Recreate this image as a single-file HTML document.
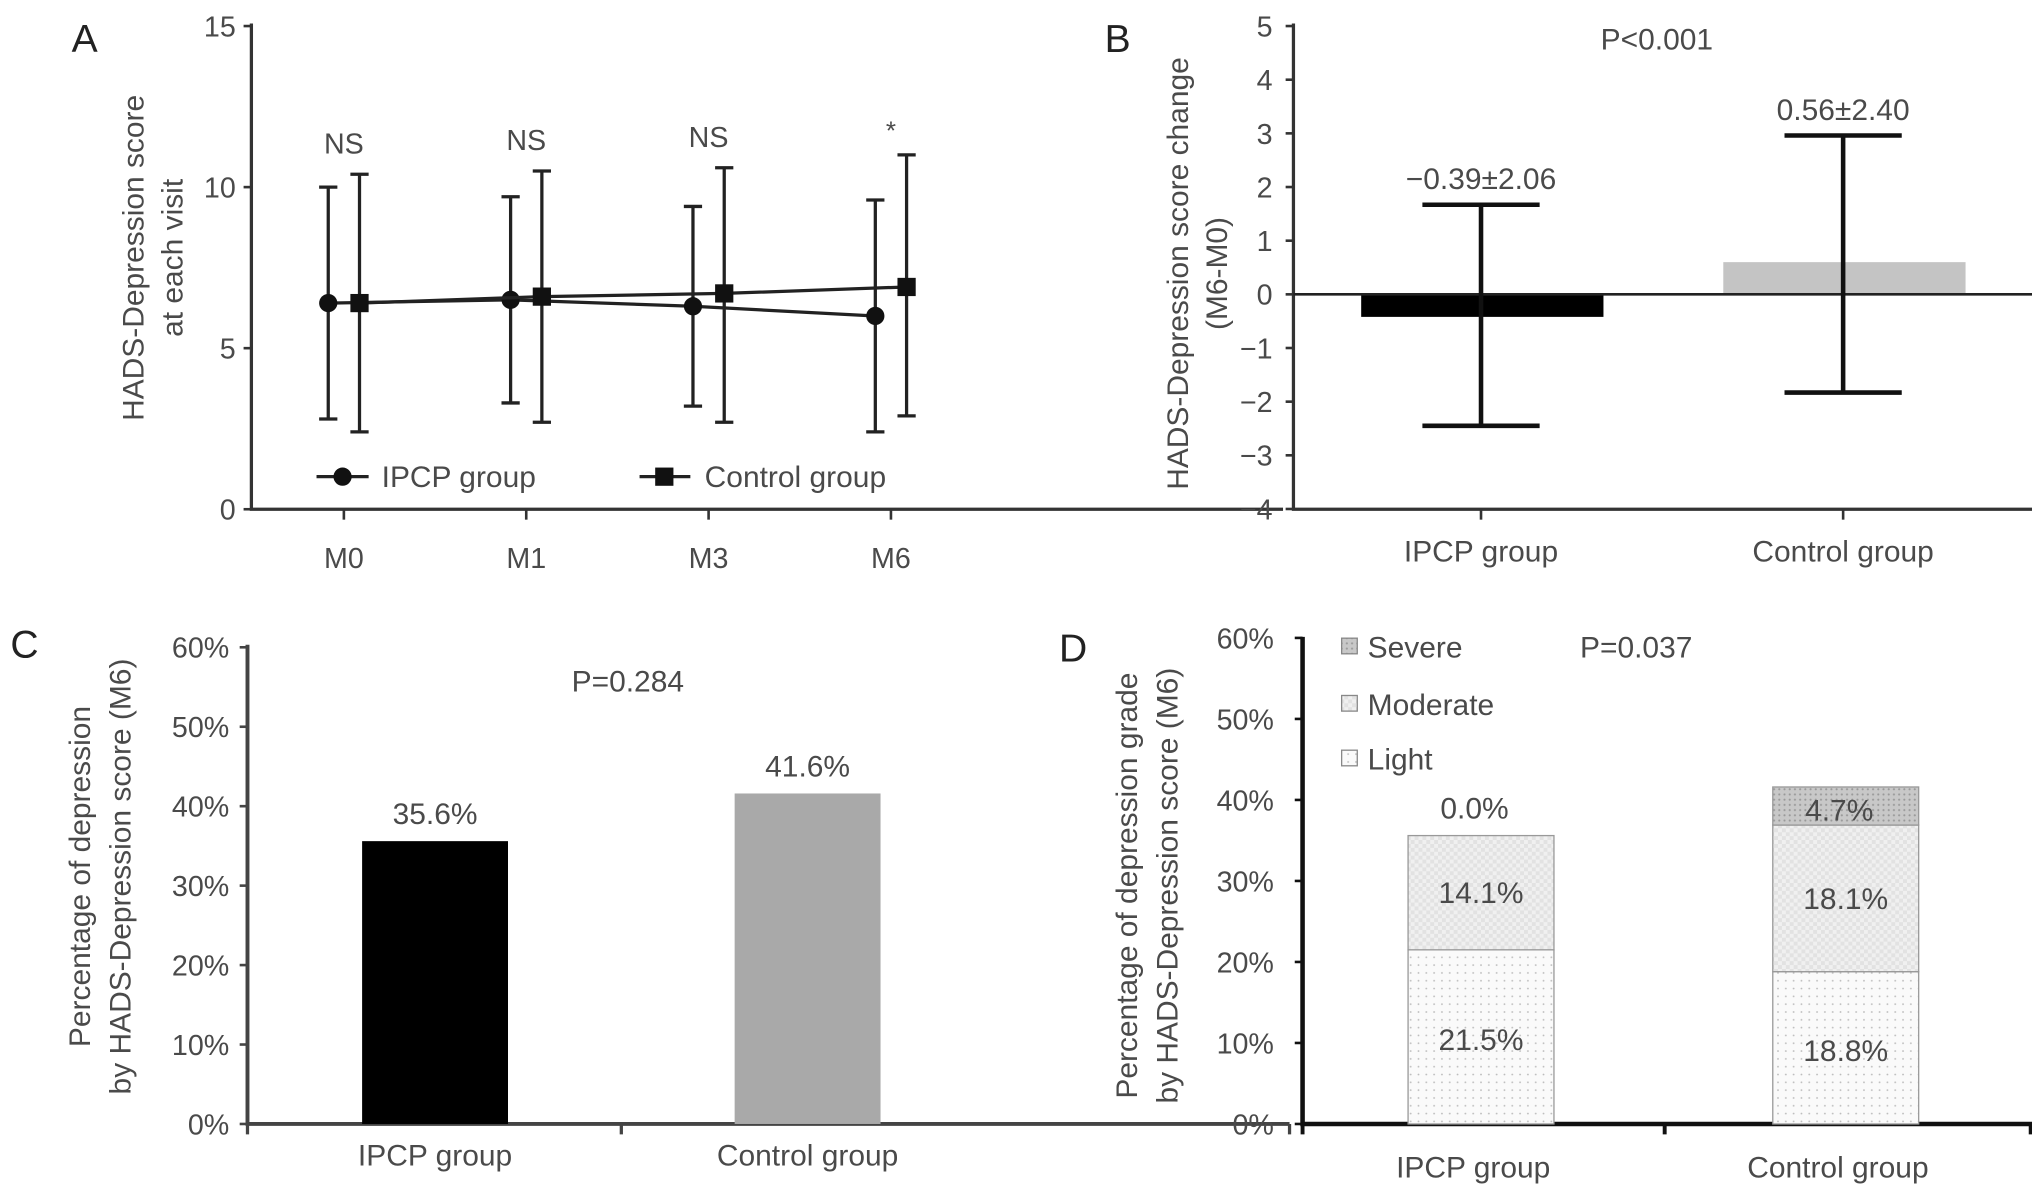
<!DOCTYPE html>
<html><head><meta charset="utf-8"><style>
html,body{margin:0;padding:0;background:#fff}
svg{display:block}
text{font-family:"Liberation Sans",sans-serif;fill:#4a4a4a}
</style></head><body>
<svg id="fig" width="2032" height="1193" viewBox="0 0 1560 916" preserveAspectRatio="none" xmlns="http://www.w3.org/2000/svg">
<defs>
<pattern id="pLight" width="6" height="6" patternUnits="userSpaceOnUse"><rect width="6" height="6" fill="#fafafa"/><circle cx="3" cy="3" r="0.7" fill="#bbb"/></pattern>
<pattern id="pMod" width="6" height="6" patternUnits="userSpaceOnUse"><rect width="6" height="6" fill="#f0f0f0"/><rect width="3" height="3" fill="#e2e2e2"/><rect x="3" y="3" width="3" height="3" fill="#e2e2e2"/></pattern>
<pattern id="pSev" width="4" height="4" patternUnits="userSpaceOnUse"><rect width="4" height="4" fill="#c8c8c8"/><circle cx="2" cy="2" r="0.8" fill="#999"/></pattern>
</defs>
<g id="gA"></g>
<g id="gB"></g>
<g id="gC"></g>
<g id="gD"></g>
</svg>
<script>
// Panel A data
const visits = ["M0","M1","M3","M6"];
const ipcpMean = [6.4, 6.5, 6.3, 6.0];
const ipcpUpper = [10.0, 9.7, 9.4, 9.6];
const ipcpLower = [2.8, 3.3, 3.2, 2.4];
const ctrlMean = [6.4, 6.6, 6.7, 6.9];
const ctrlUpper = [10.4, 10.5, 10.6, 11.0];
const ctrlLower = [2.4, 2.7, 2.7, 2.9];
const sigLabels = ["NS","NS","NS","*"];
const aTicks = [0, 5, 10, 15];
// Panel B data
const groups = ["IPCP group","Control group"];
const changeMean = [-0.42, 0.6];
const changeUpper = [1.67, 2.96];
const changeLower = [-2.45, -1.83];
const changeLabels = ["\u22120.39\u00b12.06","0.56\u00b12.40"];
const bTicks = [5,4,3,2,1,0,-1,-2,-3,-4];
const bTickLabels = ["5","4","3","2","1","0","\u22121","\u22122","\u22123","\u22124"];
// Panel C data
const depPct = [35.6, 41.6];
const depLabels = ["35.6%","41.6%"];
const pctTicks = [0,10,20,30,40,50,60];
// Panel D data
const lightPct = [21.5, 18.8];
const modPct = [14.1, 18.1];
const sevPct = [0.0, 4.7];
const lightLbl = ["21.5%","18.8%"];
const modLbl = ["14.1%","18.1%"];
const sevLbl = ["0.0%","4.7%"];

const NS="http://www.w3.org/2000/svg";
function mk(parent, tag, attrs, txt){const e=document.createElementNS(NS,tag);for(const k in attrs)e.setAttribute(k,attrs[k]);if(txt!==undefined)e.textContent=txt;parent.appendChild(e);return e;}

// ---------- Panel A ----------
(function(){
const g=document.getElementById('gA');
const y=v=>391-(v/15)*371;
const xc=i=>264+i*140;
let t=mk(g,'text',{x:55,y:40,'font-size':30,style:'fill:#222'},'A');

let ax=mk(g,'path',{d:'M193 18 V391 H985',stroke:'#333','stroke-width':2.5,fill:'none'});

aTicks.forEach(v=>{
 let l=mk(g,'line',{x1:187,x2:193,y1:y(v),y2:y(v),stroke:'#333','stroke-width':2});
 
 let tx=mk(g,'text',{x:181,y:y(v)+8,'font-size':22,'text-anchor':'end'},String(v));
 
});
visits.forEach((m,i)=>{
 let l=mk(g,'line',{x1:xc(i),x2:xc(i),y1:391,y2:399,stroke:'#333','stroke-width':2});
 
 let tx=mk(g,'text',{x:xc(i),y:436,'font-size':22,'text-anchor':'middle'},m);
 
});
function series(mean,up,lo,off,shape,name){
 let pts=mean.map((v,i)=>(xc(i)+off)+','+y(v)).join(' ');
 let pl=mk(g,'polyline',{points:pts,fill:'none',stroke:'#222','stroke-width':2.5});
 
 mean.forEach((v,i)=>{
  const x=xc(i)+off;
  let eb=mk(g,'path',{d:`M${x} ${y(up[i])} V${y(lo[i])} M${x-7} ${y(up[i])} H${x+7} M${x-7} ${y(lo[i])} H${x+7}`,stroke:'#222','stroke-width':2.5,fill:'none'});
  
  let p= shape==='c'? mk(g,'circle',{cx:x,cy:y(v),r:7,fill:'#111'}) : mk(g,'rect',{x:x-7,y:y(v)-7,width:14,height:14,fill:'#111'});
  
 });
}
series(ipcpMean,ipcpUpper,ipcpLower,-12,'c','ipcp');
series(ctrlMean,ctrlUpper,ctrlLower,12,'s','control');
sigLabels.forEach((s,i)=>{
 const top=Math.max(ipcpUpper[i],ctrlUpper[i]);
 let tx=mk(g,'text',{x:xc(i),y:s==='*'?y(top)-12:y(top)-16,'font-size':s==='*'?20:22,'text-anchor':'middle'},s);
 
});
let le=mk(g,'g',{});
mk(le,'line',{x1:243,x2:283,y1:366,y2:366,stroke:'#222','stroke-width':2.5});
mk(le,'circle',{cx:263,cy:366,r:7,fill:'#111'});
let l1=mk(le,'text',{x:293,y:374,'font-size':23},'IPCP group');
mk(le,'line',{x1:491,x2:530,y1:366,y2:366,stroke:'#222','stroke-width':2.5});
mk(le,'rect',{x:503,y:359,width:14,height:14,fill:'#111'});
let l2=mk(le,'text',{x:541,y:374,'font-size':23},'Control group');
let yt=mk(g,'text',{transform:'translate(110 198) rotate(-90)','font-size':23,'text-anchor':'middle'});

mk(yt,'tspan',{x:0,y:0},'HADS-Depression score');mk(yt,'tspan',{x:0,y:30},'at each visit');
})();

// ---------- Panel B ----------
(function(){
const g=document.getElementById('gB');
const y=v=>226-v*41.2;
const xc=i=>1137+i*278;
let t=mk(g,'text',{x:848,y:40,'font-size':30,style:'fill:#222'},'B');

let ax=mk(g,'path',{d:'M993 18 V391 H1560',stroke:'#333','stroke-width':2.5,fill:'none'});

bTicks.forEach((v,k)=>{
 let l=mk(g,'line',{x1:987,x2:993,y1:y(v),y2:y(v),stroke:'#333','stroke-width':2});
 
 let tx=mk(g,'text',{x:977,y:y(v)+8,'font-size':22,'text-anchor':'end'},bTickLabels[k]);
 
});
const colors=['#000','#c4c4c4'];
groups.forEach((gr,i)=>{
 const v=changeMean[i];
 let b=mk(g,'rect',{x:xc(i)-92,width:186,y:Math.min(y(0),y(v)),height:Math.abs(y(v)-y(0)),fill:colors[i]});
 
});
let z=mk(g,'line',{x1:993,x2:1560,y1:y(0),y2:y(0),stroke:'#222','stroke-width':2});

groups.forEach((gr,i)=>{
 const x=xc(i);
 let eb=mk(g,'path',{d:`M${x} ${y(changeUpper[i])} V${y(changeLower[i])} M${x-45} ${y(changeUpper[i])} H${x+45} M${x-45} ${y(changeLower[i])} H${x+45}`,stroke:'#111','stroke-width':3.5,fill:'none'});
 
 let vl=mk(g,'text',{x:x,y:y(changeUpper[i])-12,'font-size':23,'text-anchor':'middle'},changeLabels[i]);
 
 let l=mk(g,'line',{x1:x,x2:x,y1:391,y2:399,stroke:'#333','stroke-width':2});
 
 let tx=mk(g,'text',{x:x,y:431,'font-size':23,'text-anchor':'middle'},gr);
 
});
let p=mk(g,'text',{x:1272,y:38,'font-size':23,'text-anchor':'middle'},'P<0.001');

let yt=mk(g,'text',{transform:'translate(912 210) rotate(-90)','font-size':23,'text-anchor':'middle'});

mk(yt,'tspan',{x:0,y:0},'HADS-Depression score change');mk(yt,'tspan',{x:0,y:30},'(M6-M0)');
})();

// ---------- Panel C ----------
(function(){
const g=document.getElementById('gC');
const y=v=>863-v*6.1;
const xc=i=>334+i*286;
let t=mk(g,'text',{x:8,y:505,'font-size':30,style:'fill:#222'},'C');

let ax=mk(g,'path',{d:'M190 495 V863 H990',stroke:'#444','stroke-width':3,fill:'none'});

mk(g,'path',{d:'M190 863 V871 M477 863 V871 M990 863 V871',stroke:'#444','stroke-width':2.5});
pctTicks.forEach(v=>{
 let l=mk(g,'line',{x1:184,x2:190,y1:y(v),y2:y(v),stroke:'#444','stroke-width':2});
 
 let tx=mk(g,'text',{x:176,y:y(v)+8,'font-size':22,'text-anchor':'end'},v+'%');
 
});
const colors=['#000','#a9a9a9'];
groups.forEach((gr,i)=>{
 let b=mk(g,'rect',{x:xc(i)-56,width:112,y:y(depPct[i]),height:y(0)-y(depPct[i]),fill:colors[i]});
 
 let vl=mk(g,'text',{x:xc(i),y:y(depPct[i])-13,'font-size':23,'text-anchor':'middle'},depLabels[i]);
 
 let tx=mk(g,'text',{x:xc(i),y:895,'font-size':23,'text-anchor':'middle'},gr);
 
});
let p=mk(g,'text',{x:482,y:531,'font-size':23,'text-anchor':'middle'},'P=0.284');

let yt=mk(g,'text',{transform:'translate(69 673) rotate(-90)','font-size':23,'text-anchor':'middle'});

mk(yt,'tspan',{x:0,y:0},'Percentage of depression');mk(yt,'tspan',{x:0,y:31},'by HADS-Depression score (M6)');
})();

// ---------- Panel D ----------
(function(){
const g=document.getElementById('gD');
const y=v=>863-v*6.22;
const xc=i=>1137+i*280;
let t=mk(g,'text',{x:813,y:508,'font-size':30,style:'fill:#222'},'D');

let ax=mk(g,'path',{d:'M1000 489 V863 H1560',stroke:'#111','stroke-width':3.5,fill:'none'});

mk(g,'path',{d:'M1000 863 V871 M1278 863 V871 M1559 863 V871',stroke:'#111','stroke-width':3});
pctTicks.forEach(v=>{
 let l=mk(g,'line',{x1:994,x2:1000,y1:y(v),y2:y(v),stroke:'#111','stroke-width':2});
 
 let tx=mk(g,'text',{x:978,y:y(v)+8,'font-size':22,'text-anchor':'end'},v+'%');
 
});
groups.forEach((gr,i)=>{
 const x0=xc(i)-56;
 const s1=lightPct[i], s2=s1+modPct[i], s3=s2+sevPct[i];
 let a=mk(g,'rect',{x:x0,width:112,y:y(s1),height:y(0)-y(s1),fill:'url(#pLight)',stroke:'#999','stroke-width':1});
 
 let b=mk(g,'rect',{x:x0,width:112,y:y(s2),height:y(s1)-y(s2),fill:'url(#pMod)',stroke:'#999','stroke-width':1});
 
 if(sevPct[i]>0){
  let c=mk(g,'rect',{x:x0,width:112,y:y(s3),height:y(s2)-y(s3),fill:'url(#pSev)',stroke:'#999','stroke-width':1});
  
 }
 let t1=mk(g,'text',{x:xc(i),y:(y(0)+y(s1))/2+10,'font-size':23,'text-anchor':'middle'},lightLbl[i]);
 
 let t2=mk(g,'text',{x:xc(i),y:(y(s1)+y(s2))/2+8,'font-size':23,'text-anchor':'middle'},modLbl[i]);
 
 let t3=mk(g,'text',{x:xc(i)-5,y:sevPct[i]>0?(y(s2)+y(s3))/2+11:y(s3)-13,'font-size':23,'text-anchor':'middle'},sevLbl[i]);
 
 let tx=mk(g,'text',{x:xc(i)-6,y:904,'font-size':23,'text-anchor':'middle'},gr);
 
});
const legs=[['Severe','url(#pSev)',497],['Moderate','url(#pMod)',541],['Light','url(#pLight)',583]];
legs.forEach(l=>{
 let r=mk(g,'rect',{x:1030,y:l[2]-7,width:12,height:12,fill:l[1],stroke:'#888','stroke-width':1});
 
 let tx=mk(g,'text',{x:1050,y:l[2]+8,'font-size':23},l[0]);
 
});
let p=mk(g,'text',{x:1213,y:505,'font-size':23},'P=0.037');

let yt=mk(g,'text',{transform:'translate(873 680) rotate(-90)','font-size':23,'text-anchor':'middle'});

mk(yt,'tspan',{x:0,y:0},'Percentage of depression grade');mk(yt,'tspan',{x:0,y:31},'by HADS-Depression score (M6)');
})();
</script>
</body></html>
